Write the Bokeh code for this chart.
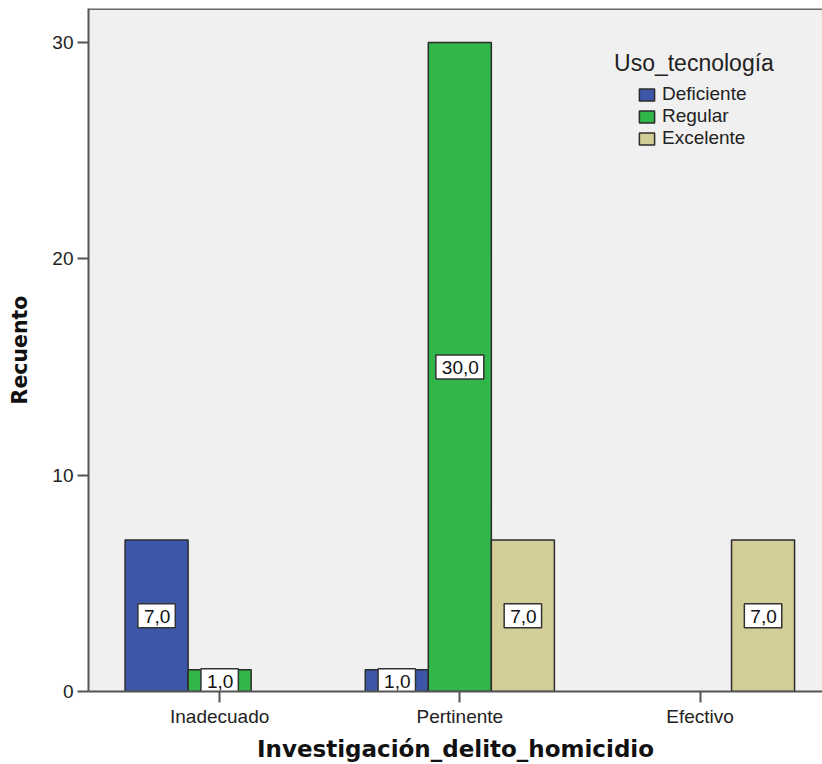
from bokeh.plotting import figure
from bokeh.models import Range1d, FixedTicker, Span, Legend, LegendItem, Label, ColumnDataSource
from bokeh.core.properties import value
from bokeh.embed import file_html
from bokeh.resources import INLINE

categories = ["Inadecuado", "Pertinente", "Efectivo"]
series = ["Deficiente", "Regular", "Excelente"]
deficiente = [7, 1, 0]
regular = [1, 30, 0]
excelente = [0, 7, 7]
colors = ["#3D56A8", "#31B64A", "#D3CE98"]
y_ticks = [0, 10, 20, 30]

W, H = 822, 764
Y_END = 31.57
p = figure(width=W, height=H, output_backend="svg", toolbar_location=None,
           x_range=Range1d(-0.546, 2.51), y_range=Range1d(0, Y_END),
           min_border_left=88, min_border_top=8, min_border_bottom=73, min_border_right=0)

p.background_fill_color = "#F0F0F0"
p.border_fill_color = "white"
p.outline_line_color = None
p.xgrid.visible = False
p.ygrid.visible = False

p.add_layout(Span(location=Y_END, dimension="width", line_color="#6A6A6A", line_width=3))

bar_w = 0.2625
renderers = []
sources = []
for j, (name, vals, col) in enumerate(zip(series, [deficiente, regular, excelente], colors)):
    xs = [i + (j - 1) * bar_w for i, v in enumerate(vals) if v > 0]
    tops = [v for v in vals if v > 0]
    src = ColumnDataSource(dict(x=xs, top=tops, mid=[t / 2 for t in tops],
                                lab=[f"{t:.1f}".replace(".", ",") for t in tops]))
    r = p.vbar(x="x", top="top", bottom=0, width=bar_w, source=src,
               fill_color=col, line_color="#2B2B2B", line_width=1.5)
    renderers.append(r)
    sources.append(src)

for src in sources:
    p.text(x="x", y="mid", text="lab", source=src, text_align="center", text_baseline="middle",
           text_font=value("Liberation Sans"), text_font_size="19px", text_color="#111111",
           background_fill_color="white", border_line_color="#333333", border_line_width=1.5,
           padding=(6, 5, 6, 5))

legend = Legend(items=[LegendItem(label=s, renderers=[r]) for s, r in zip(series, renderers)],
                location=(549, 542), background_fill_alpha=0, border_line_color=None,
                padding=0, margin=0, spacing=0, glyph_width=19, glyph_height=15,
                label_standoff=6, label_text_font_size="19px", label_text_font="Liberation Sans",
                label_height=20, label_text_color="#222222")
p.add_layout(legend)

p.add_layout(Label(x=1.642, y=29.03, text="Uso_tecnología", text_font_size="23px",
                   text_baseline="middle", text_align="left", text_font="Liberation Sans",
                   text_color="#222222"))

for ax in (p.xaxis[0], p.yaxis[0]):
    ax.axis_line_color = "#555555"
    ax.axis_line_width = 2
    ax.major_tick_line_color = "#555555"
    ax.major_tick_line_width = 2
    ax.major_tick_out = 11
    ax.major_tick_in = 0
    ax.minor_tick_line_color = None
    ax.major_label_text_font = "Liberation Sans"
    ax.major_label_text_font_size = "19px"
    ax.major_label_text_color = "#222222"
    ax.axis_label_text_font = "DejaVu Sans"
    ax.axis_label_text_font_style = "bold"
    ax.axis_label_text_color = "#111111"

p.xaxis.ticker = FixedTicker(ticks=[0, 1, 2])
p.xaxis.major_label_overrides = {i: c for i, c in enumerate(categories)}
p.xaxis.axis_label = "Investigación_delito_homicidio"
p.xaxis.axis_label_text_font_size = "23px"
p.xaxis.major_label_standoff = 3
p.xaxis.axis_label_standoff = 6

p.yaxis.ticker = FixedTicker(ticks=y_ticks)
p.yaxis.axis_label = "Recuento"
p.yaxis.axis_label_text_font_size = "20.5px"
p.yaxis.major_label_standoff = 4
p.yaxis.axis_label_standoff = 17

open("out.html", "w").write(file_html(p, INLINE))
